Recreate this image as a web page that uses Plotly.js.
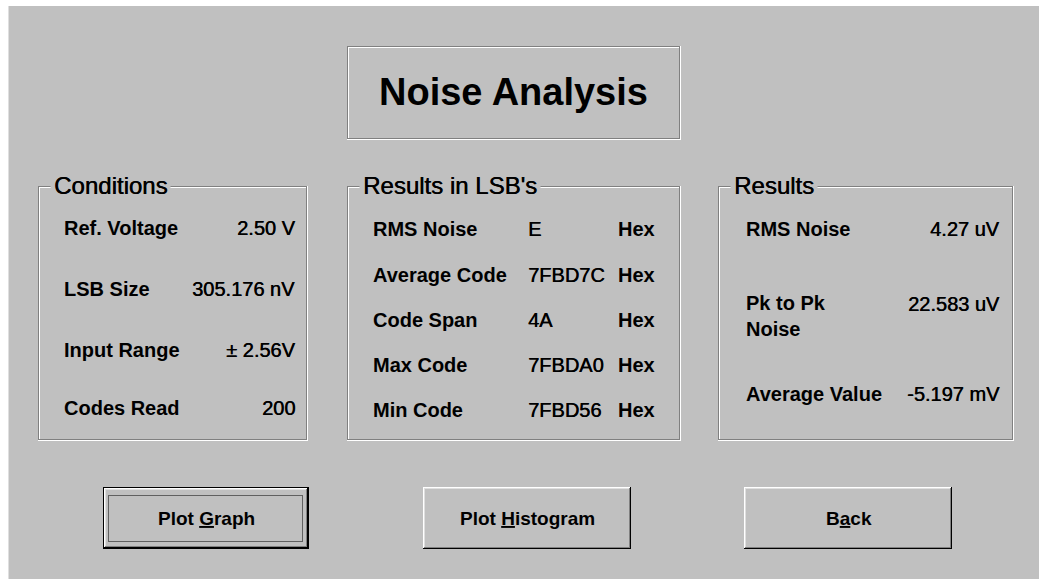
<!DOCTYPE html>
<html>
<head>
<meta charset="utf-8">
<script src="https://cdn.plot.ly/plotly-3.0.1.min.js"></script>
<style>
  html, body { margin: 0; padding: 0; background: #ffffff; }
  #chart { width: 1039px; height: 579px; }
</style>
</head>
<body>
<div id="chart"></div>
<script>
const dialogTitle = 'Noise Analysis';
const groupTitles = ['Conditions', "Results in LSB's", 'Results'];
const conditionLabels = ['Ref. Voltage', 'LSB Size', 'Input Range', 'Codes Read'];
const conditionValues = ['2.50 V', '305.176 nV', '\u00B1 2.56V', '200'];
const lsbLabels = ['RMS Noise', 'Average Code', 'Code Span', 'Max Code', 'Min Code'];
const lsbValues = ['E', '7FBD7C', '4A', '7FBDA0', '7FBD56'];
const lsbUnits = ['Hex', 'Hex', 'Hex', 'Hex', 'Hex'];
const resultLabels = ['RMS Noise', 'Pk to Pk<br>Noise', 'Average Value'];
const resultValues = ['4.27 uV', '22.583 uV', '-5.197 mV'];
const buttonLabels = ['Plot Graph', 'Plot Histogram', 'Back'];
const buttonHotkeys = [5, 5, 1]; // index of underlined character

// ---- Layout constants ----
const W = 1039, H = 579;
const BG = '#c0c0c0', DARK = '#808080', LIGHT = '#dfdfdf', WHITE = '#ffffff', BLACK = '#000000';
const FONT = 'Liberation Sans, Arial, sans-serif';

const shapes = [];
const annotations = [];

function hline(xa, xb, y, color) {
  shapes.push({type: 'line', xref: 'x', yref: 'y', x0: xa, x1: xb + 1, y0: y + 0.5, y1: y + 0.5,
    line: {color: color, width: 1}});
}
function vline(x, ya, yb, color) {
  shapes.push({type: 'line', xref: 'x', yref: 'y', x0: x + 0.5, x1: x + 0.5, y0: ya, y1: yb + 1,
    line: {color: color, width: 1}});
}
function etched(x0, y0, x1, y1) {
  hline(x0, x1 - 1, y0, DARK); hline(x0, x1 - 1, y1 - 1, DARK);
  vline(x0, y0, y1 - 1, DARK); vline(x1 - 1, y0, y1 - 1, DARK);
  hline(x0 + 1, x1 - 2, y0 + 1, WHITE); vline(x0 + 1, y0 + 1, y1 - 2, WHITE);
  hline(x0, x1, y1, WHITE); vline(x1, y0, y1, WHITE);
}
function button(x0, y0, x1, y1, isDefault) {
  if (isDefault) {
    hline(x0, x1, y0, BLACK); hline(x0, x1, y1, BLACK);
    vline(x0, y0, y1, BLACK); vline(x1, y0, y1, BLACK);
    x0 += 1; y0 += 1; x1 -= 1; y1 -= 1;
  }
  hline(x0, x1 - 1, y0, WHITE); vline(x0, y0, y1 - 1, WHITE);
  hline(x0, x1, y1, BLACK); vline(x1, y0, y1, BLACK);
  hline(x0 + 1, x1 - 2, y0 + 1, LIGHT); vline(x0 + 1, y0 + 1, y1 - 2, LIGHT);
  hline(x0 + 1, x1 - 1, y1 - 1, DARK); vline(x1 - 1, y0 + 1, y1 - 1, DARK);
}
function text(t, x, y, opts) {
  opts = opts || {};
  const font = {family: FONT, size: opts.size || 20, color: BLACK, weight: opts.weight || 'bold'};
  if (opts.shadow) font.shadow = opts.shadow;
  annotations.push({
    text: t, x: x, y: y, xref: 'x', yref: 'y', showarrow: false,
    xanchor: opts.xanchor || 'left', yanchor: 'middle', align: opts.align || 'left',
    font: font,
    bgcolor: opts.bg || 'rgba(0,0,0,0)', borderpad: opts.pad || 0
  });
}
const SEMI = '0.5px 0px 0px #000000';

// window background
shapes.push({type: 'rect', xref: 'x', yref: 'y', x0: 8, x1: W, y0: 6, y1: H,
  fillcolor: BG, line: {width: 0}, layer: 'below'});
vline(8, 6, H - 1, LIGHT);

// title box
etched(347, 46, 680, 139);
text(dialogTitle, 513, 92, {xanchor: 'center', size: 38, weight: 'bold'});

// group boxes
const groups = [
  {x0: 38, x1: 307},
  {x0: 347, x1: 680},
  {x0: 718, x1: 1013}
];
const gy0 = 186, gy1 = 440;
groups.forEach((g, i) => {
  etched(g.x0, gy0, g.x1, gy1);
  text(groupTitles[i], g.x0 + 12, gy0 - 1, {size: 24, weight: 'normal', bg: BG, pad: 3, shadow: SEMI});
});

// Conditions
const condRows = [228, 289, 350, 408];
conditionLabels.forEach((l, i) => {
  text(l, 63, condRows[i]);
  text(conditionValues[i], 296, condRows[i], {xanchor: 'right', weight: 'normal', shadow: SEMI});
});

// Results in LSB's
const lsbRows = [229, 275, 320, 365, 410];
lsbLabels.forEach((l, i) => {
  text(l, 372, lsbRows[i]);
  text(lsbValues[i], 527, lsbRows[i], {weight: 'normal', shadow: SEMI});
  text(lsbUnits[i], 617, lsbRows[i]);
});

// Results
const resRows = [229, 316, 394];
const resValRows = [229, 304, 394];
resultLabels.forEach((l, i) => {
  text(l, 745, resRows[i]);
  text(resultValues[i], 1001, resValRows[i], {xanchor: 'right', weight: 'normal', shadow: SEMI});
});

// buttons
const buttons = [
  {x0: 103, x1: 308, def: true},
  {x0: 423, x1: 630, def: false},
  {x0: 744, x1: 951, def: false}
];
const by0 = 487, by1 = 548;
buttons.forEach((b, i) => {
  button(b.x0, by0, b.x1, by1, b.def);
  if (b.def) {
    shapes.push({type: 'rect', xref: 'x', yref: 'y', x0: b.x0 + 5.5, x1: b.x1 - 5.5, y0: by0 + 8.5, y1: by1 - 6.5,
      line: {color: BLACK, width: 1, dash: '1px,1px'}});
  }
  const lbl = buttonLabels[i];
  const k = buttonHotkeys[i];
  const rich = lbl.slice(0, k) + '<span style="text-decoration:underline">' + lbl[k] + '</span>' + lbl.slice(k + 1);
  text(rich, (b.x0 + b.x1) / 2 + 1, 518, {xanchor: 'center', size: 19});
});

const layout = {
  width: W, height: H,
  margin: {l: 0, r: 0, t: 0, b: 0, pad: 0},
  paper_bgcolor: WHITE, plot_bgcolor: 'rgba(0,0,0,0)',
  xaxis: {range: [0, W], visible: false, fixedrange: true},
  yaxis: {range: [H, 0], visible: false, fixedrange: true},
  showlegend: false,
  shapes: shapes,
  annotations: annotations
};

Plotly.newPlot('chart', [{x: [], y: [], type: 'scatter', mode: 'markers', hoverinfo: 'skip'}], layout,
  {staticPlot: true, displayModeBar: false});
</script>
</body>
</html>
